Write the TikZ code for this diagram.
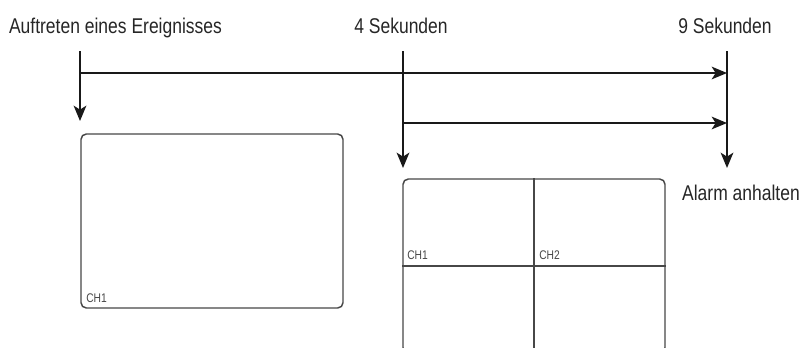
\documentclass[tikz,border=0pt]{standalone}
\usepackage{fontspec}
\setmainfont{Liberation Sans}
\usetikzlibrary{arrows.meta}
\newcommand{\condtxt}[1]{\scalebox{0.82}[1]{#1}}
\begin{document}
\begin{tikzpicture}[x=0.75pt,y=-0.75pt,
  tl/.style={font=\fontsize{16}{18}\selectfont, text=black!85, inner sep=0, anchor=base},
  ch/.style={font=\fontsize{9.4}{11}\selectfont, text=black!72, inner sep=0, anchor=base west},
  arr/.style={line width=1.5pt, draw=black!90, -{Stealth[length=11.5pt,width=9.5pt,inset=3pt]}},
  scr/.style={draw=black!72, line width=1.1pt, rounded corners=4pt, minimum width=196.5pt, minimum height=130.5pt, inner sep=0},
  div/.style={draw=black!72, line width=1.1pt}]
\useasboundingbox (0,0) rectangle (805,347);
\clip (0,0) rectangle (805,347);
% labels
\node[tl] (ev) at (115.5,33) {\condtxt{Auftreten eines Ereignisses}};
\node[tl] (s4) at (401,33) {\condtxt{4 Sekunden}};
\node[tl] (s9) at (725,33) {\condtxt{9 Sekunden}};
\node[tl] (stop) at (741,200) {\condtxt{Alarm anhalten}};
% timeline coordinates
\coordinate (t0) at (80,51);  \coordinate (b0) at (80,121);
\coordinate (t4) at (403,51); \coordinate (b4) at (403,168);
\coordinate (t9) at (727,51); \coordinate (b9) at (727,168);
\coordinate (h1) at (80,73);  \coordinate (e1) at (727,73);
\coordinate (h2) at (403,123); \coordinate (e2) at (727,123);
\draw[arr] (t0) -- (b0);
\draw[arr] (t4) -- (b4);
\draw[arr] (t9) -- (b9);
\draw[arr] (h1) -- (e1);
\draw[arr] (h2) -- (e2);
% screens
\node[scr] (scr1) at (212,221) {};
\node[ch] (c1) at (86,302) {\condtxt{CH1}};
\node[scr] (scr2) at (534,266) {};
\draw[div] (scr2.north) -- (scr2.south);
\draw[div] (scr2.west) -- (scr2.east);
\node[ch] (c21) at (407,259) {\condtxt{CH1}};
\node[ch] (c22) at (539,259) {\condtxt{CH2}};
\end{tikzpicture}
\end{document}
